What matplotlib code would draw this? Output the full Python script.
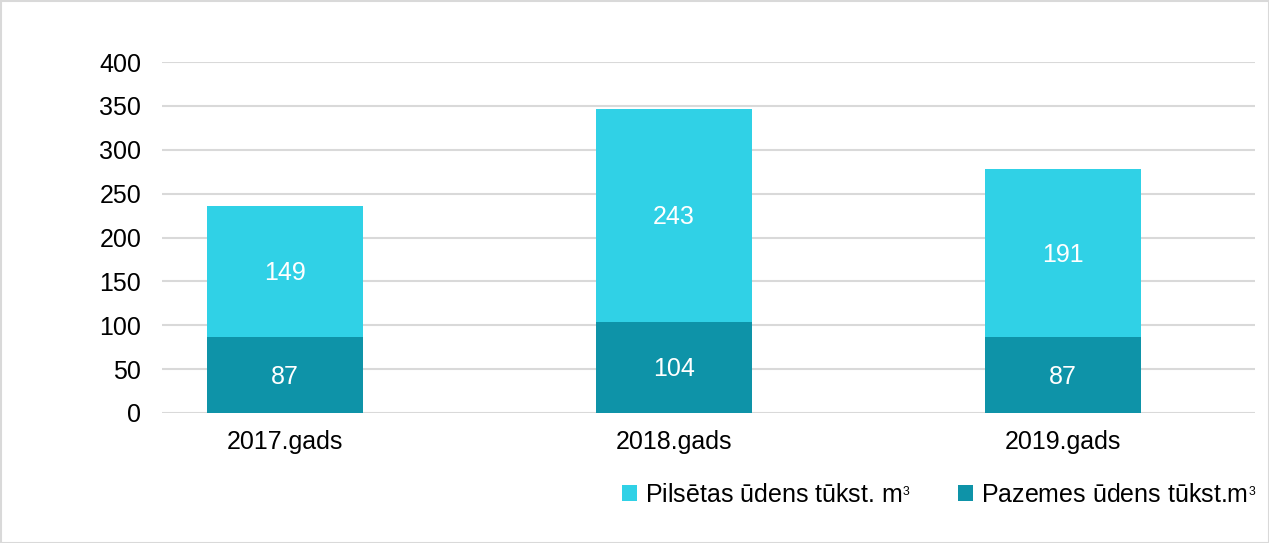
import matplotlib.pyplot as plt
from matplotlib.patches import Rectangle

plt.rcParams['font.family'] = ['Liberation Sans', 'DejaVu Sans']
plt.rcParams['mathtext.fontset'] = 'custom'
plt.rcParams['mathtext.rm'] = 'Liberation Sans'
plt.rcParams['mathtext.it'] = 'Liberation Sans'

years = ['2017.gads', '2018.gads', '2019.gads']
pazemes = [87, 104, 87]
pilsetas = [149, 243, 191]
label_pilsetas = 'Pilsētas ūdens tūkst. m$^{\\mathregular{_3}}$'
label_pazemes = 'Pazemes ūdens tūkst.m$^{\\mathregular{_3}}$'

c_light = '#30D1E6'
c_dark = '#0E93A8'
fs = 18

fig = plt.figure(figsize=(12.69, 5.43), dpi=100)
ax = fig.add_axes([162 / 1269, 1 - 413 / 543, 1093 / 1269, 351 / 543])

x = list(range(len(years)))
b1 = ax.bar(x, pazemes, width=0.40, color=c_dark, label=label_pazemes, zorder=3)
b2 = ax.bar(x, pilsetas, width=0.40, bottom=pazemes, color=c_light,
            label=label_pilsetas, zorder=3)

for i in x:
    ax.text(i, pazemes[i] / 2 - 2, str(pazemes[i]), ha='center', va='center',
            color='white', fontsize=fs, zorder=4)
    ax.text(i, pazemes[i] + pilsetas[i] / 2 - 2, str(pilsetas[i]), ha='center',
            va='center', color='white', fontsize=fs, zorder=4)

ax.set_xlim(-0.316, 2.494)
ax.set_ylim(0, 400)
ax.set_yticks(range(0, 401, 50))
ax.set_xticks(x)
ax.set_xticklabels(years)
ax.tick_params(axis='both', length=0, labelsize=fs, colors='black')
ax.tick_params(axis='y', pad=15)
ax.tick_params(axis='x', pad=12)
ax.grid(axis='y', color='#D9D9D9', linewidth=1.5, zorder=0)
for s in ax.spines.values():
    s.set_visible(False)

ax.legend(handles=[b2, b1], loc='center right',
          bbox_to_anchor=(1256 / 1269, 1 - 495 / 543),
          bbox_transform=fig.transFigure, ncol=2, frameon=False, fontsize=fs,
          handlelength=0.6, handleheight=0.6, handletextpad=0.3,
          columnspacing=1.9, borderpad=0, borderaxespad=0)

fig.patches.append(Rectangle((0.5 / 1269, 0.5 / 543), 1 - 1 / 1269, 1 - 1 / 543,
                             transform=fig.transFigure, fill=False,
                             edgecolor='#D9D9D9', linewidth=1.5))

fig.savefig('out.png', dpi=100)
